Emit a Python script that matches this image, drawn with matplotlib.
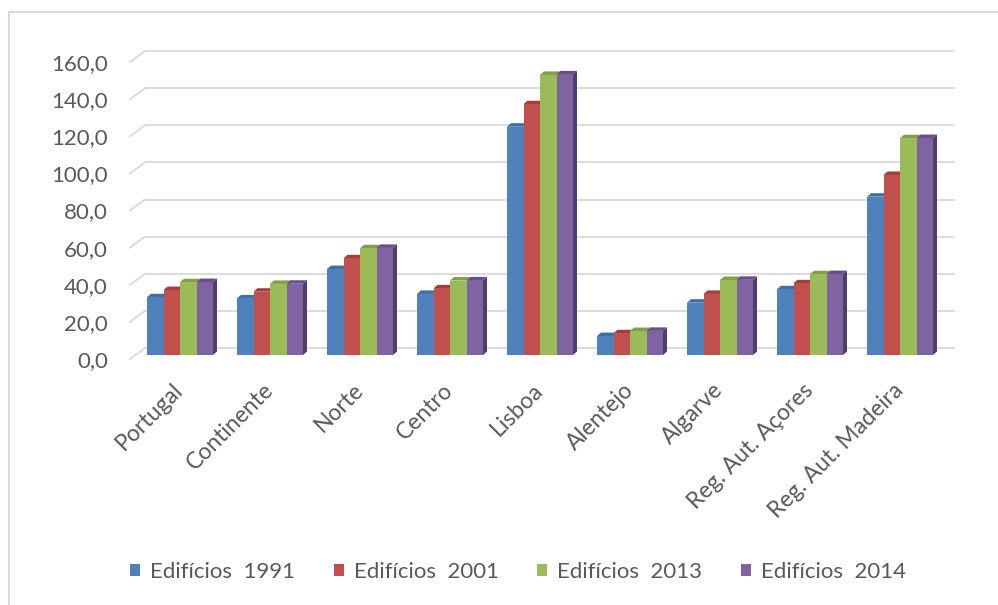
import matplotlib
matplotlib.use("Agg")
import matplotlib.pyplot as plt
from matplotlib.patches import Polygon, Rectangle
from matplotlib.transforms import ScaledTranslation

# dados (edificios por km2)
categorias = ["Portugal", "Continente", "Norte", "Centro", "Lisboa", "Alentejo",
              "Algarve", "Reg. Aut. Açores", "Reg. Aut. Madeira"]
series = ["Edifícios  1991", "Edifícios  2001", "Edifícios  2013", "Edifícios  2014"]
ed_1991 = [31.1, 30.5, 46.3, 32.9, 123.0, 10.2, 28.2, 35.4, 85.3]
ed_2001 = [35.0, 34.1, 52.1, 35.9, 135.1, 11.7, 32.9, 38.6, 97.0]
ed_2013 = [39.2, 38.3, 57.5, 40.1, 150.9, 12.9, 40.4, 43.5, 116.8]
ed_2014 = [39.3, 38.4, 57.7, 40.2, 151.2, 13.0, 40.5, 43.6, 116.9]
valores = [ed_1991, ed_2001, ed_2013, ed_2014]
yticks = [0, 20, 40, 60, 80, 100, 120, 140, 160]

cores = ["#4F81BD", "#C0504D", "#9BBB59", "#8064A2"]
cores_topo = ["#3F6EA6", "#A23F3C", "#819F45", "#65508A"]
cores_lado = ["#3A5F8E", "#8A3532", "#6E8838", "#4F3D6B"]

W, H, DPI = 998, 605, 100
CAT_PX = 90.0       # pixeis por categoria
PX0 = 180.0         # centro da primeira categoria
BASE = 355.0        # base das barras (pixel)
ESC = 1.856         # pixeis por unidade
FONTE = "Lato"
CINZA = "#595959"
GRELHA = "#D9D9D9"


def px2x(px):
    return (px - PX0) / CAT_PX


fig = plt.figure(figsize=(W / DPI, H / DPI), dpi=DPI)
fig.patch.set_facecolor("white")

# moldura do grafico
fig.patches.append(Rectangle((9 / W, -0.05), 1.2, (H + 30 - 12) / H, transform=fig.transFigure,
                             fill=False, edgecolor=GRELHA, linewidth=1.5))

ax_left, ax_right = 130, 955
topo = BASE - 160 * ESC
ax = fig.add_axes([ax_left / W, (H - BASE) / H, (ax_right - ax_left) / W, (BASE - topo) / H])
ax.set_xlim(px2x(ax_left), px2x(ax_right))
ax.set_ylim(0, 160)
for s in ax.spines.values():
    s.set_visible(False)
ax.set_facecolor("none")


def desloc(dx_px, dy_px):
    return ax.transData + ScaledTranslation(dx_px / DPI, dy_px / DPI, fig.dpi_scale_trans)


# grelha na parede de fundo + diagonais do chao/parede lateral
for v in yticks:
    ax.plot([px2x(145), px2x(955)], [v, v], color=GRELHA, lw=1.3, transform=desloc(0, 7),
            zorder=1, clip_on=False, solid_capstyle="butt")
    ax.plot([px2x(130), px2x(145)], [v, v + 11 / ESC], color=GRELHA, lw=1.3,
            transform=desloc(0, -4), zorder=1, clip_on=False)

# barras com efeito 3D
larg = 16.5 / CAT_PX
dx = 4.0 / CAT_PX
dy = 3.5 / ESC
for i in range(len(categorias)):
    for j, serie in enumerate(valores):
        xl = (147 + CAT_PX * i + 16.5 * j - PX0) / CAT_PX
        xr = xl + larg
        v = serie[i]
        lado = Polygon([(xr, 0), (xr, v), (xr + dx, v + dy), (xr + dx, dy)],
                       closed=True, facecolor=cores_lado[j], edgecolor="none",
                       zorder=3, clip_on=False)
        cima = Polygon([(xl, v), (xr, v), (xr + dx, v + dy), (xl + dx, v + dy)],
                       closed=True, facecolor=cores_topo[j], edgecolor="none",
                       zorder=3, clip_on=False)
        ax.add_patch(lado)
        ax.add_patch(cima)
        ax.bar(xl, v, width=larg, align="edge", color=cores[j], zorder=3,
               linewidth=0, clip_on=False, label=series[j] if i == 0 else None)

# eixo y
ax.set_yticks(yticks)
ax.set_yticklabels([f"{v:.1f}".replace(".", ",") for v in yticks],
                   fontsize=16, color=CINZA, family=FONTE)
ax.tick_params(axis="y", length=0, pad=16)
for lab in ax.get_yticklabels():
    lab.set_transform(lab.get_transform() + ScaledTranslation(0, -4 / DPI, fig.dpi_scale_trans))

# eixo x
ax.set_xticks(range(len(categorias)))
ax.set_xticklabels(categorias, rotation=45, ha="right", va="center", rotation_mode="anchor",
                   fontsize=16.5, color=CINZA, family=FONTE)
ax.tick_params(axis="x", length=0, pad=23)

# legenda
handles, labels = ax.get_legend_handles_labels()
leg = fig.legend(handles, labels, loc="center", bbox_to_anchor=(0.519, (H - 572) / H),
                 ncol=4, frameon=False, handlelength=0.45, handleheight=0.45,
                 handletextpad=0.45, columnspacing=1.75,
                 prop={"family": FONTE, "size": 16})
for t in leg.get_texts():
    t.set_color(CINZA)

fig.savefig("out.png", dpi=DPI, facecolor="white")
